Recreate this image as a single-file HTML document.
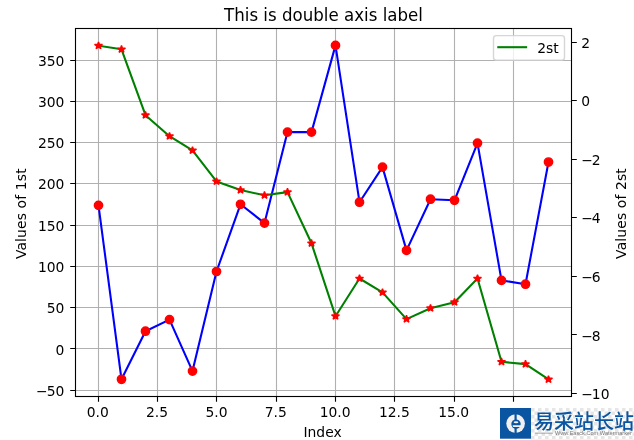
<!DOCTYPE html>
<html><head><meta charset="utf-8"><style>
html,body{margin:0;padding:0;background:#fff;width:634px;height:440px;overflow:hidden;position:relative}
</style></head><body>
<svg width="634" height="440" viewBox="0 0 634 440" style="position:absolute;left:0;top:0;will-change:transform">
<rect x="0" y="0" width="634" height="440" fill="#ffffff"/>
<defs><clipPath id="c"><rect x="75.5" y="28.5" width="496.0" height="368.0"/></clipPath>
<pattern id="chk" x="531" y="408" width="7" height="7" patternUnits="userSpaceOnUse"><rect width="7" height="7" fill="#ffffff"/><rect width="3.5" height="3.5" fill="#e6e6e6"/><rect x="3.5" y="3.5" width="3.5" height="3.5" fill="#e6e6e6"/></pattern></defs>
<path d="M98.50 28.5V396.5 M157.50 28.5V396.5 M216.50 28.5V396.5 M276.50 28.5V396.5 M335.50 28.5V396.5 M394.50 28.5V396.5 M454.50 28.5V396.5 M513.50 28.5V396.5 M75.5 390.50H571.5 M75.5 348.50H571.5 M75.5 307.50H571.5 M75.5 266.50H571.5 M75.5 225.50H571.5 M75.5 183.50H571.5 M75.5 142.50H571.5 M75.5 101.50H571.5 M75.5 60.50H571.5" stroke="#b0b0b0" stroke-width="1.111" fill="none" stroke-linecap="square"/>
<g clip-path="url(#c)"><polyline points="98.50,205.36 121.50,379.30 145.50,331.20 169.50,319.60 192.50,371.10 216.50,271.50 240.50,204.30 264.50,223.10 287.50,132.10 311.50,132.10 335.50,45.40 359.50,202.20 382.50,167.10 406.50,250.40 430.50,199.20 454.50,200.30 477.50,143.10 501.50,280.40 525.50,284.20 548.50,162.06" fill="none" stroke="#0000ff" stroke-width="2.083" stroke-linejoin="round" stroke-linecap="square"/>
<circle cx="98.50" cy="205.36" r="4.167" fill="#ff0000" stroke="#ff0000" stroke-width="1.389"/>
<circle cx="121.50" cy="379.30" r="4.167" fill="#ff0000" stroke="#ff0000" stroke-width="1.389"/>
<circle cx="145.50" cy="331.20" r="4.167" fill="#ff0000" stroke="#ff0000" stroke-width="1.389"/>
<circle cx="169.50" cy="319.60" r="4.167" fill="#ff0000" stroke="#ff0000" stroke-width="1.389"/>
<circle cx="192.50" cy="371.10" r="4.167" fill="#ff0000" stroke="#ff0000" stroke-width="1.389"/>
<circle cx="216.50" cy="271.50" r="4.167" fill="#ff0000" stroke="#ff0000" stroke-width="1.389"/>
<circle cx="240.50" cy="204.30" r="4.167" fill="#ff0000" stroke="#ff0000" stroke-width="1.389"/>
<circle cx="264.50" cy="223.10" r="4.167" fill="#ff0000" stroke="#ff0000" stroke-width="1.389"/>
<circle cx="287.50" cy="132.10" r="4.167" fill="#ff0000" stroke="#ff0000" stroke-width="1.389"/>
<circle cx="311.50" cy="132.10" r="4.167" fill="#ff0000" stroke="#ff0000" stroke-width="1.389"/>
<circle cx="335.50" cy="45.40" r="4.167" fill="#ff0000" stroke="#ff0000" stroke-width="1.389"/>
<circle cx="359.50" cy="202.20" r="4.167" fill="#ff0000" stroke="#ff0000" stroke-width="1.389"/>
<circle cx="382.50" cy="167.10" r="4.167" fill="#ff0000" stroke="#ff0000" stroke-width="1.389"/>
<circle cx="406.50" cy="250.40" r="4.167" fill="#ff0000" stroke="#ff0000" stroke-width="1.389"/>
<circle cx="430.50" cy="199.20" r="4.167" fill="#ff0000" stroke="#ff0000" stroke-width="1.389"/>
<circle cx="454.50" cy="200.30" r="4.167" fill="#ff0000" stroke="#ff0000" stroke-width="1.389"/>
<circle cx="477.50" cy="143.10" r="4.167" fill="#ff0000" stroke="#ff0000" stroke-width="1.389"/>
<circle cx="501.50" cy="280.40" r="4.167" fill="#ff0000" stroke="#ff0000" stroke-width="1.389"/>
<circle cx="525.50" cy="284.20" r="4.167" fill="#ff0000" stroke="#ff0000" stroke-width="1.389"/>
<circle cx="548.50" cy="162.06" r="4.167" fill="#ff0000" stroke="#ff0000" stroke-width="1.389"/>
<polyline points="98.50,45.70 121.50,49.30 145.50,115.20 169.50,136.20 192.50,150.40 216.50,181.40 240.50,190.10 264.50,195.30 287.50,192.10 311.50,243.30 335.50,316.20 359.50,278.50 382.50,292.40 406.50,319.10 430.50,308.20 454.50,302.20 477.50,278.50 501.50,361.80 525.50,364.10 548.50,379.40" fill="none" stroke="#008000" stroke-width="2.083" stroke-linejoin="round" stroke-linecap="square"/>
<path d="M98.50,41.95 L97.56,44.54 L94.54,44.54 L96.99,46.14 L96.05,48.73 L98.50,47.13 L100.95,48.73 L100.01,46.14 L102.46,44.54 L99.44,44.54Z M121.50,45.55 L120.56,48.14 L117.54,48.14 L119.99,49.74 L119.05,52.33 L121.50,50.73 L123.95,52.33 L123.01,49.74 L125.46,48.14 L122.44,48.14Z M145.50,111.45 L144.56,114.04 L141.54,114.04 L143.99,115.64 L143.05,118.23 L145.50,116.63 L147.95,118.23 L147.01,115.64 L149.46,114.04 L146.44,114.04Z M169.50,132.45 L168.56,135.04 L165.54,135.04 L167.99,136.64 L167.05,139.23 L169.50,137.63 L171.95,139.23 L171.01,136.64 L173.46,135.04 L170.44,135.04Z M192.50,146.65 L191.56,149.24 L188.54,149.24 L190.99,150.84 L190.05,153.43 L192.50,151.83 L194.95,153.43 L194.01,150.84 L196.46,149.24 L193.44,149.24Z M216.50,177.65 L215.56,180.24 L212.54,180.24 L214.99,181.84 L214.05,184.43 L216.50,182.83 L218.95,184.43 L218.01,181.84 L220.46,180.24 L217.44,180.24Z M240.50,186.35 L239.56,188.94 L236.54,188.94 L238.99,190.54 L238.05,193.13 L240.50,191.53 L242.95,193.13 L242.01,190.54 L244.46,188.94 L241.44,188.94Z M264.50,191.55 L263.56,194.14 L260.54,194.14 L262.99,195.74 L262.05,198.33 L264.50,196.73 L266.95,198.33 L266.01,195.74 L268.46,194.14 L265.44,194.14Z M287.50,188.35 L286.56,190.94 L283.54,190.94 L285.99,192.54 L285.05,195.13 L287.50,193.53 L289.95,195.13 L289.01,192.54 L291.46,190.94 L288.44,190.94Z M311.50,239.55 L310.56,242.14 L307.54,242.14 L309.99,243.74 L309.05,246.33 L311.50,244.73 L313.95,246.33 L313.01,243.74 L315.46,242.14 L312.44,242.14Z M335.50,312.45 L334.56,315.04 L331.54,315.04 L333.99,316.64 L333.05,319.23 L335.50,317.63 L337.95,319.23 L337.01,316.64 L339.46,315.04 L336.44,315.04Z M359.50,274.75 L358.56,277.34 L355.54,277.34 L357.99,278.94 L357.05,281.53 L359.50,279.93 L361.95,281.53 L361.01,278.94 L363.46,277.34 L360.44,277.34Z M382.50,288.65 L381.56,291.24 L378.54,291.24 L380.99,292.84 L380.05,295.43 L382.50,293.83 L384.95,295.43 L384.01,292.84 L386.46,291.24 L383.44,291.24Z M406.50,315.35 L405.56,317.94 L402.54,317.94 L404.99,319.54 L404.05,322.13 L406.50,320.53 L408.95,322.13 L408.01,319.54 L410.46,317.94 L407.44,317.94Z M430.50,304.45 L429.56,307.04 L426.54,307.04 L428.99,308.64 L428.05,311.23 L430.50,309.63 L432.95,311.23 L432.01,308.64 L434.46,307.04 L431.44,307.04Z M454.50,298.45 L453.56,301.04 L450.54,301.04 L452.99,302.64 L452.05,305.23 L454.50,303.63 L456.95,305.23 L456.01,302.64 L458.46,301.04 L455.44,301.04Z M477.50,274.75 L476.56,277.34 L473.54,277.34 L475.99,278.94 L475.05,281.53 L477.50,279.93 L479.95,281.53 L479.01,278.94 L481.46,277.34 L478.44,277.34Z M501.50,358.05 L500.56,360.64 L497.54,360.64 L499.99,362.24 L499.05,364.83 L501.50,363.23 L503.95,364.83 L503.01,362.24 L505.46,360.64 L502.44,360.64Z M525.50,360.35 L524.56,362.94 L521.54,362.94 L523.99,364.54 L523.05,367.13 L525.50,365.53 L527.95,367.13 L527.01,364.54 L529.46,362.94 L526.44,362.94Z M548.50,375.65 L547.56,378.24 L544.54,378.24 L546.99,379.84 L546.05,382.43 L548.50,380.83 L550.95,382.43 L550.01,379.84 L552.46,378.24 L549.44,378.24Z" fill="#ff0000" stroke="#ff0000" stroke-width="1.389" stroke-linejoin="bevel"/>
</g>
<rect x="75.5" y="28.5" width="496.0" height="368.0" fill="none" stroke="#000" stroke-width="1.111" stroke-linejoin="miter" stroke-linecap="square"/>
<path d="M98.50 396.5v5.30 M157.50 396.5v5.30 M216.50 396.5v5.30 M276.50 396.5v5.30 M335.50 396.5v5.30 M394.50 396.5v5.30 M454.50 396.5v5.30 M513.50 396.5v5.30 M75.5 390.50h-5.30 M75.5 348.50h-5.30 M75.5 307.50h-5.30 M75.5 266.50h-5.30 M75.5 225.50h-5.30 M75.5 183.50h-5.30 M75.5 142.50h-5.30 M75.5 101.50h-5.30 M75.5 60.50h-5.30 M571.5 393.50h5.30 M571.5 334.50h5.30 M571.5 276.50h5.30 M571.5 217.50h5.30 M571.5 159.50h5.30 M571.5 100.50h5.30 M571.5 42.50h5.30" stroke="#000" stroke-width="1.111" fill="none"/>
<text x="97.77" y="417.48" font-family="DejaVu Sans, Liberation Sans, sans-serif" font-size="13.889" text-anchor="middle" fill="#000" >0.0</text>
<text x="157.10" y="417.48" font-family="DejaVu Sans, Liberation Sans, sans-serif" font-size="13.889" text-anchor="middle" fill="#000" >2.5</text>
<text x="216.43" y="417.48" font-family="DejaVu Sans, Liberation Sans, sans-serif" font-size="13.889" text-anchor="middle" fill="#000" >5.0</text>
<text x="275.76" y="417.48" font-family="DejaVu Sans, Liberation Sans, sans-serif" font-size="13.889" text-anchor="middle" fill="#000" >7.5</text>
<text x="335.09" y="417.48" font-family="DejaVu Sans, Liberation Sans, sans-serif" font-size="13.889" text-anchor="middle" fill="#000" >10.0</text>
<text x="394.42" y="417.48" font-family="DejaVu Sans, Liberation Sans, sans-serif" font-size="13.889" text-anchor="middle" fill="#000" >12.5</text>
<text x="453.75" y="417.48" font-family="DejaVu Sans, Liberation Sans, sans-serif" font-size="13.889" text-anchor="middle" fill="#000" >15.0</text>
<text x="513.08" y="417.48" font-family="DejaVu Sans, Liberation Sans, sans-serif" font-size="13.889" text-anchor="middle" fill="#000" >17.5</text>
<text x="64.38" y="395.78" font-family="DejaVu Sans, Liberation Sans, sans-serif" font-size="13.889" text-anchor="end" fill="#000" >−<tspan dx="-1">50</tspan></text>
<text x="64.38" y="354.51" font-family="DejaVu Sans, Liberation Sans, sans-serif" font-size="13.889" text-anchor="end" fill="#000" >0</text>
<text x="64.38" y="313.23" font-family="DejaVu Sans, Liberation Sans, sans-serif" font-size="13.889" text-anchor="end" fill="#000" >50</text>
<text x="64.38" y="271.96" font-family="DejaVu Sans, Liberation Sans, sans-serif" font-size="13.889" text-anchor="end" fill="#000" >100</text>
<text x="64.38" y="230.68" font-family="DejaVu Sans, Liberation Sans, sans-serif" font-size="13.889" text-anchor="end" fill="#000" >150</text>
<text x="64.38" y="189.41" font-family="DejaVu Sans, Liberation Sans, sans-serif" font-size="13.889" text-anchor="end" fill="#000" >200</text>
<text x="64.38" y="148.13" font-family="DejaVu Sans, Liberation Sans, sans-serif" font-size="13.889" text-anchor="end" fill="#000" >250</text>
<text x="64.38" y="106.86" font-family="DejaVu Sans, Liberation Sans, sans-serif" font-size="13.889" text-anchor="end" fill="#000" >300</text>
<text x="64.38" y="65.58" font-family="DejaVu Sans, Liberation Sans, sans-serif" font-size="13.889" text-anchor="end" fill="#000" >350</text>
<text x="581.22" y="399.06" font-family="DejaVu Sans, Liberation Sans, sans-serif" font-size="13.889" text-anchor="start" fill="#000" >−<tspan dx="-1">10</tspan></text>
<text x="581.22" y="340.50" font-family="DejaVu Sans, Liberation Sans, sans-serif" font-size="13.889" text-anchor="start" fill="#000" >−<tspan dx="-1">8</tspan></text>
<text x="581.22" y="281.94" font-family="DejaVu Sans, Liberation Sans, sans-serif" font-size="13.889" text-anchor="start" fill="#000" >−<tspan dx="-1">6</tspan></text>
<text x="581.22" y="223.38" font-family="DejaVu Sans, Liberation Sans, sans-serif" font-size="13.889" text-anchor="start" fill="#000" >−<tspan dx="-1">4</tspan></text>
<text x="581.22" y="164.82" font-family="DejaVu Sans, Liberation Sans, sans-serif" font-size="13.889" text-anchor="start" fill="#000" >−<tspan dx="-1">2</tspan></text>
<text x="581.22" y="106.26" font-family="DejaVu Sans, Liberation Sans, sans-serif" font-size="13.889" text-anchor="start" fill="#000" >0</text>
<text x="581.22" y="47.70" font-family="DejaVu Sans, Liberation Sans, sans-serif" font-size="13.889" text-anchor="start" fill="#000" >2</text>
<text transform="translate(323.50 20.75) scale(1 1.085)" x="0" y="0" font-family="DejaVu Sans, Liberation Sans, sans-serif" font-size="16.667" text-anchor="middle" fill="#000">This is double axis label</text>
<text x="322.60" y="437.00" font-family="DejaVu Sans, Liberation Sans, sans-serif" font-size="13.889" text-anchor="middle" fill="#000" >Index</text>
<text transform="translate(26.3 213.70) rotate(-90)" font-family="DejaVu Sans, Liberation Sans, sans-serif" font-size="13.889" text-anchor="middle" letter-spacing="0.14" fill="#000">Values of 1st</text>
<text transform="translate(626.0 213.50) rotate(-90)" font-family="DejaVu Sans, Liberation Sans, sans-serif" font-size="13.889" text-anchor="middle" letter-spacing="0.14" fill="#000">Values of 2st</text>
<rect x="493.5" y="35.6" width="71.0" height="24.6" rx="2.8" ry="2.8" fill="#ffffff" fill-opacity="0.8" stroke="#cccccc" stroke-opacity="0.8" stroke-width="1.389"/>
<path d="M498.3 47.2H526.1" stroke="#008000" stroke-width="2.083" stroke-linecap="square"/>
<text x="537.30" y="52.60" font-family="DejaVu Sans, Liberation Sans, sans-serif" font-size="13.889" text-anchor="start" fill="#000" >2st</text>
<rect x="497" y="403" width="137" height="37" fill="#ffffff"/>
<rect x="500" y="408" width="31" height="30.7" fill="#0a55a2"/>
<rect x="531" y="408" width="103" height="32" fill="url(#chk)"/>
<g transform="translate(515.6 423.6)"><circle r="9.3" fill="#f0f0f0"/><rect x="-1.1" y="-10" width="2.2" height="20" fill="#0a55a2"/><circle cx="0.4" cy="0.5" r="4.7" fill="#0a55a2"/><ellipse cx="0.4" cy="-1.3" rx="2.4" ry="1.0" fill="#f0f0f0"/><path d="M-3.1 1.7H6.5V3.5H-2.4Z" fill="#f0f0f0"/></g>
<text x="534.0" y="429.4" font-family="Liberation Sans, Noto Sans CJK SC, sans-serif" font-size="20" font-weight="500" fill="#0a55a2">易采站长站</text>
<path d="M535 433.2H553" stroke="#8a8a8a" stroke-width="0.7"/>
<text x="555" y="435.4" font-family="Liberation Sans, sans-serif" font-size="5.4" fill="#7a7a7a" textLength="77" lengthAdjust="spacingAndGlyphs">Www.Easck.Com Watermarker</text>
</svg>
</body></html>
